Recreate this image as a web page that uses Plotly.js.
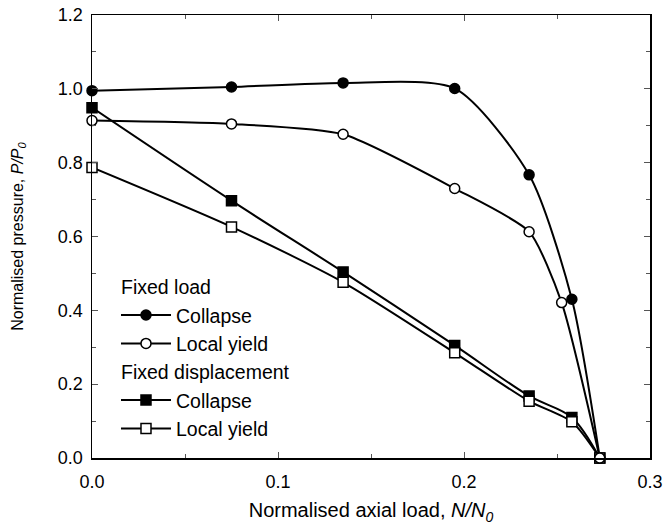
<!DOCTYPE html>
<html>
<head>
<meta charset="utf-8">
<script src="https://cdn.plot.ly/plotly-3.0.1.min.js"></script>
<style>html,body{margin:0;padding:0;background:#fff;}</style>
</head>
<body>
<div id="chart" style="width:668px;height:531px;"></div>
<script>
// Data
const flCollapseX = [0, 0.075, 0.135, 0.195, 0.235, 0.258, 0.273];
const flCollapseY = [0.995, 1.005, 1.016, 1.001, 0.767, 0.430, 0.0];
const flYieldX = [0, 0.075, 0.135, 0.195, 0.235, 0.2525, 0.273];
const flYieldY = [0.914, 0.905, 0.877, 0.730, 0.613, 0.421, 0.0];
const fdCollapseX = [0, 0.075, 0.135, 0.195, 0.235, 0.258, 0.273];
const fdCollapseY = [0.949, 0.697, 0.504, 0.305, 0.168, 0.110, 0.0];
const fdYieldX = [0, 0.075, 0.135, 0.195, 0.235, 0.258, 0.273];
const fdYieldY = [0.787, 0.626, 0.476, 0.285, 0.154, 0.098, 0.0];
const xTickVals = [0, 0.1, 0.2, 0.3];
const yTickVals = [0, 0.2, 0.4, 0.6, 0.8, 1.0, 1.2];
const groupLoad = 'Fixed load';
const groupDisp = 'Fixed displacement';
const nameCollapse = 'Collapse';
const nameYield = 'Local yield';

const FONT = 'Arial, "Liberation Sans", sans-serif';

function tr(x, y, name, group, symbol, fill, rank, smooth) {
  return {
    x: x, y: y, name: name, type: 'scatter', mode: 'lines+markers',
    legendgroup: group, legendgrouptitle: {text: group, font: {size: 19.5, family: FONT, color: '#000'}},
    legendrank: rank,
    line: {color: '#000', width: 2, shape: 'spline', smoothing: smooth},
    marker: {symbol: symbol, size: 10, color: fill, line: {color: '#000', width: 1.5}},
    cliponaxis: false
  };
}

const data = [
  tr(fdCollapseX, fdCollapseY, nameCollapse, groupDisp, 'square', '#000', 3, 0.9),
  tr(fdYieldX, fdYieldY, nameYield, groupDisp, 'square', '#fff', 4, 0.7),
  tr(flCollapseX, flCollapseY, nameCollapse, groupLoad, 'circle', '#000', 1, 0.7),
  tr(flYieldX, flYieldY, nameYield, groupLoad, 'circle', '#fff', 2, 0.6)
];

const axisCommon = {
  showgrid: false, zeroline: false, showline: true, linecolor: '#000', linewidth: 1.5,
  mirror: 'ticks', ticks: 'inside', ticklen: 6, tickwidth: 1, tickcolor: '#555',
  tickfont: {size: 18, family: FONT, color: '#000'}, tickformat: '.1f'
};

const layout = {
  width: 668, height: 531,
  margin: {l: 92, r: 18, t: 15, b: 73},
  paper_bgcolor: '#fff', plot_bgcolor: '#fff',
  font: {family: FONT, color: '#000'},
  showlegend: true,
  legend: {
    x: 0.043, y: 0.43, xanchor: 'left', yanchor: 'top',
    bgcolor: 'rgba(0,0,0,0)', borderwidth: 0,
    font: {size: 19.5, family: FONT, color: '#000'},
    traceorder: 'grouped', tracegroupgap: 0, itemwidth: 50
  },
  xaxis: Object.assign({}, axisCommon, {
    range: [0, 0.3], tickvals: xTickVals, ticklabelstandoff: 7,
    minor: {ticks: 'inside', dtick: 0.05, tick0: 0, ticklen: 4, tickcolor: '#555'},
    title: {text: 'Normalised axial load, <i>N/N<sub>0</sub></i>', font: {size: 20, family: FONT, color: '#000'}, standoff: 12}
  }),
  yaxis: Object.assign({}, axisCommon, {
    range: [0, 1.2], tickvals: yTickVals, ticklabelstandoff: 4,
    minor: {ticks: 'inside', dtick: 0.1, tick0: 0, ticklen: 4, tickcolor: '#555'},
    title: {text: 'Normalised pressure, <i>P/P<sub>0</sub></i>', font: {size: 16, family: FONT, color: '#000'}, standoff: 30}
  })
};

Plotly.newPlot('chart', data, layout, {displayModeBar: false, staticPlot: true});
</script>
</body>
</html>
